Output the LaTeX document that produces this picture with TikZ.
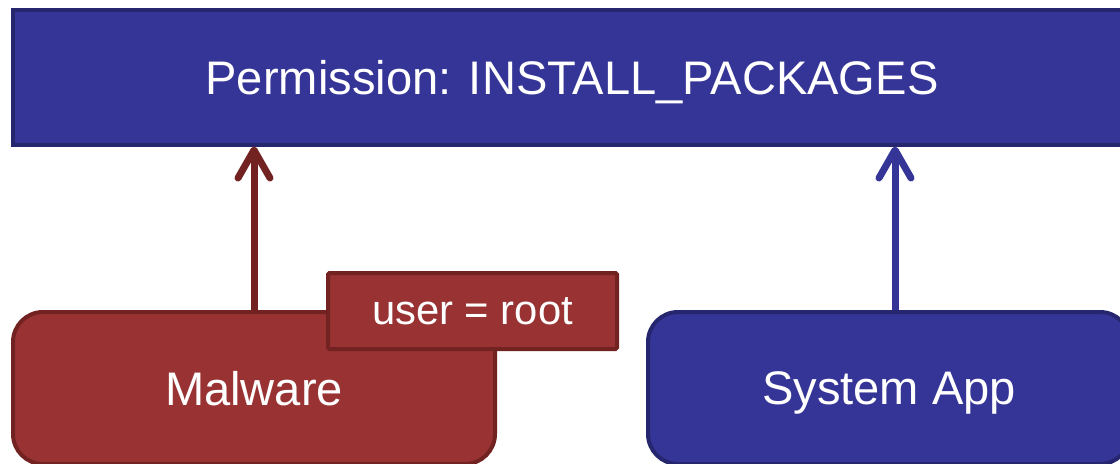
\documentclass[tikz,border=0pt]{standalone}
\usepackage{fontspec}
\setmainfont{Liberation Sans}
\usetikzlibrary{arrows.meta}
\usetikzlibrary{calc}

\definecolor{bluefill}{RGB}{53,53,151}
\definecolor{blueline}{RGB}{38,38,110}
\definecolor{redfill}{RGB}{153,51,51}
\definecolor{redline}{RGB}{115,34,34}

\tikzset{
    box/.style={line width=0.1cm, text=white, inner sep=0pt, text depth=0pt,
        font=\fontsize{33.5}{40}\selectfont},
    bluebox/.style={box, draw=blueline, fill=bluefill},
    redbox/.style={box, draw=redline, fill=redfill},
    up/.style={line width=0.175cm, -{Straight Barb[length=0.7cm, width=0.8cm, round]}},
}

\begin{document}
\begin{tikzpicture}
            \useasboundingbox (0,0) rectangle (28,-11.575);
            \node[bluebox, minimum width=27.95cm, minimum height=3.375cm] (P) at (14.3,-1.925) {Permission: INSTALL\_PACKAGES};
            \node[redbox, rounded corners=0.75cm, minimum width=12.05cm, minimum height=3.8cm] (M) at (6.35,-9.7) {Malware};
            \node[bluebox, rounded corners=0.75cm, minimum width=12.05cm, minimum height=3.8cm] (S) at (22.225,-9.7) {System App};
            \node[redbox, rounded corners=1pt, minimum width=7.225cm, minimum height=1.9cm, font=\fontsize{29.7}{36}\selectfont] (R) at (11.8125,-7.775) {user = root};
            \draw[up, redline] (M.north) -- (M.north |- P.south);
            \draw[up, bluefill] ([xshift=0.15cm]S.north) -- ([xshift=0.15cm]S.north |- P.south);
        \end{tikzpicture}
\end{document}
